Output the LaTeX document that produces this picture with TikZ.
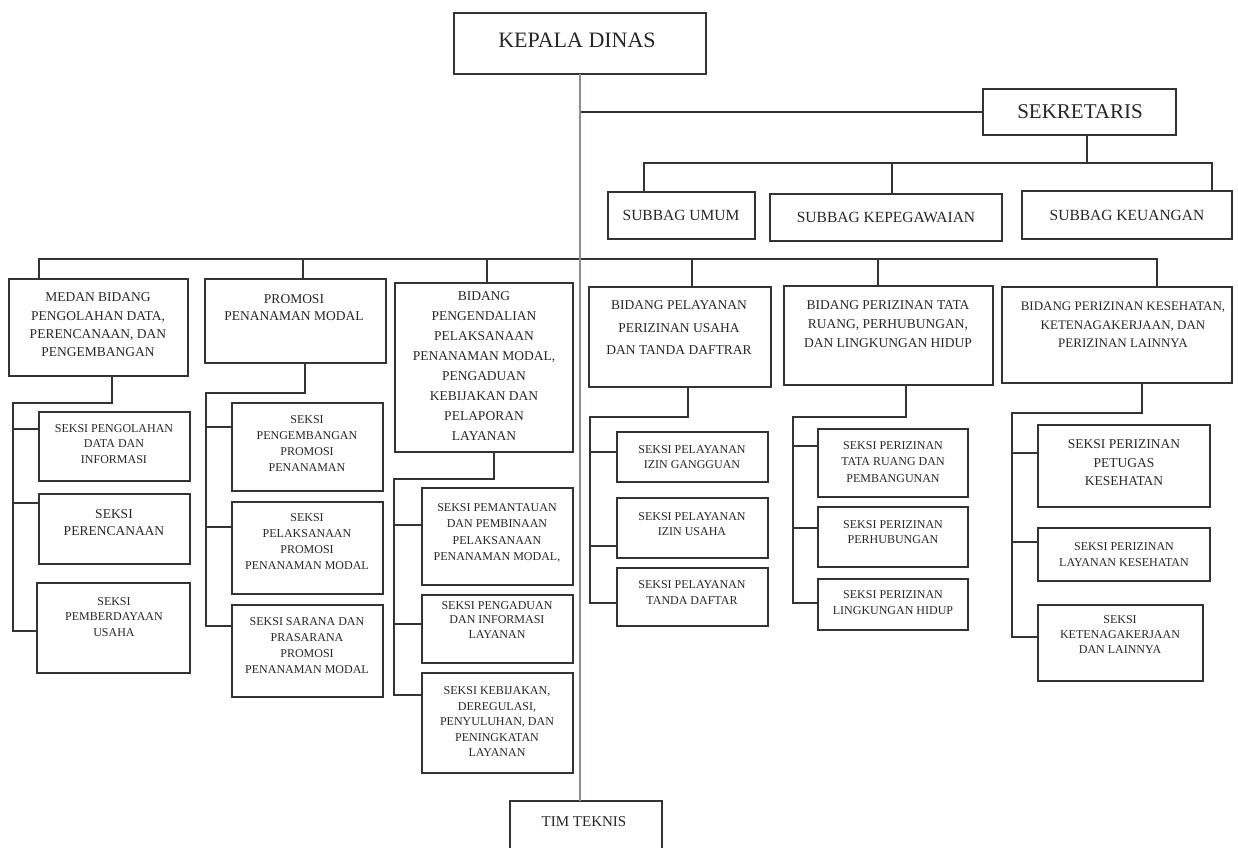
\documentclass[tikz,border=0pt]{standalone}
\usepackage{fontspec}
\setmainfont{Liberation Serif}
\usetikzlibrary{calc}
\tikzset{
  box/.style={rectangle, draw=black!80, line width=0.9pt, inner sep=0pt, outer sep=0pt},
  lbl/.style={align=center, inner sep=0pt, text=black!85},
  con/.style={draw=black!80, line width=0.9pt},
  mainline/.style={draw={rgb,255:red,135;green,148;blue,130}, line width=0.75pt},
}
\newcommand\bx[5]{\node[box, minimum width={(#4-#2)*0.5pt}, minimum height={(#5-#3)*0.5pt}] (#1) at ({(#2+#4)/2},{(#3+#5)/2}) {};}
\newcommand\fs[2]{\fontsize{#1}{#2}\selectfont}
\begin{document}
\begin{tikzpicture}[x=0.5pt,y=-0.5pt]
\useasboundingbox (0,0) rectangle (1238,847);
\clip (0,0) rectangle (1238,847);

% ---------- top level ----------
\bx{kd}{454}{13}{706}{74}
\node[lbl, font=\fs{11}{13}] (kdt) at (577,40) {KEPALA DINAS};
\bx{sek}{983}{89}{1176}{135}
\node[lbl, font=\fs{10.5}{12}] (sekt) at (1080,112) {SEKRETARIS};
\bx{sb1}{608}{192}{755}{239}
\node[lbl, font=\fs{7.75}{9}] (sb1t) at (681,215) {SUBBAG UMUM};
\bx{sb2}{770}{194}{1002}{241}
\node[lbl, font=\fs{7.75}{9}] (sb2t) at (886,217) {SUBBAG KEPEGAWAIAN};
\bx{sb3}{1022}{191}{1232}{239}
\node[lbl, font=\fs{7.75}{9}] (sb3t) at (1127,215) {SUBBAG KEUANGAN};
\bx{tim}{510}{801}{662}{880}
\node[lbl, font=\fs{7.5}{9}] (timt) at (584,822) {TIM TEKNIS};

% ---------- bidang ----------
\bx{b1}{9}{279}{188}{376}
\node[lbl, font=\fs{6.75}{9.15}] (b1t) at (98,325) {MEDAN BIDANG\\PENGOLAHAN DATA,\\PERENCANAAN, DAN\\PENGEMBANGAN};
\bx{b2}{205}{279}{386}{363}
\node[lbl, font=\fs{6.75}{8.5}] (b2t) at (294,308) {PROMOSI\\PENANAMAN MODAL};
\bx{b3}{395}{283}{573}{452}
\node[lbl, font=\fs{6.75}{10}] (b3t) at (484,366) {BIDANG\\PENGENDALIAN\\PELAKSANAAN\\PENANAMAN MODAL,\\PENGADUAN\\KEBIJAKAN DAN\\PELAPORAN\\LAYANAN};
\bx{b4}{589}{287}{771}{387}
\node[lbl, font=\fs{6.75}{11.25}] (b4t) at (679,328) {BIDANG PELAYANAN\\PERIZINAN USAHA\\DAN TANDA DAFTRAR};
\bx{b5}{784}{286}{993}{385}
\node[lbl, font=\fs{6.75}{9.5}] (b5t) at (888,324) {BIDANG PERIZINAN TATA\\RUANG, PERHUBUNGAN,\\DAN LINGKUNGAN HIDUP};
\bx{b6}{1002}{287}{1232}{383}
\node[lbl, font=\fs{6.5}{9.25}] (b6t) at (1123,325) {BIDANG PERIZINAN KESEHATAN,\\KETENAGAKERJAAN, DAN\\PERIZINAN LAINNYA};

% ---------- seksi ----------
\bx{s1a}{39}{412}{190}{481}
\node[lbl, font=\fs{6}{7.75}] (s1at) at (114,444) {SEKSI PENGOLAHAN\\DATA DAN\\INFORMASI};
\bx{s1b}{39}{494}{190}{564}
\node[lbl, font=\fs{6.75}{8.5}] (s1bt) at (114,523) {SEKSI\\PERENCANAAN};
\bx{s1c}{37}{583}{190}{673}
\node[lbl, font=\fs{6}{7.75}] (s1ct) at (114,617) {SEKSI\\PEMBERDAYAAN\\USAHA};

\bx{s2a}{232}{403}{383}{491}
\node[lbl, font=\fs{6}{8}] (s2at) at (307,444) {SEKSI\\PENGEMBANGAN\\PROMOSI\\PENANAMAN};
\bx{s2b}{232}{502}{383}{594}
\node[lbl, font=\fs{6}{8}] (s2bt) at (307,542) {SEKSI\\PELAKSANAAN\\PROMOSI\\PENANAMAN MODAL};
\bx{s2c}{232}{605}{383}{697}
\node[lbl, font=\fs{6}{8}] (s2ct) at (307,646) {SEKSI SARANA DAN\\PRASARANA\\PROMOSI\\PENANAMAN MODAL};

\bx{s3a}{422}{488}{573}{585}
\node[lbl, font=\fs{6}{8.25}] (s3at) at (497,533) {SEKSI PEMANTAUAN\\DAN PEMBINAAN\\PELAKSANAAN\\PENANAMAN MODAL,};
\bx{s3b}{422}{595}{573}{663}
\node[lbl, font=\fs{6}{7.25}] (s3bt) at (497,620) {SEKSI PENGADUAN\\DAN INFORMASI\\LAYANAN};
\bx{s3c}{422}{673}{573}{773}
\node[lbl, font=\fs{6}{7.75}] (s3ct) at (497,722) {SEKSI KEBIJAKAN,\\DEREGULASI,\\PENYULUHAN, DAN\\PENINGKATAN\\LAYANAN};

\bx{s4a}{617}{432}{768}{482}
\node[lbl, font=\fs{6}{7.5}] (s4at) at (692,457) {SEKSI PELAYANAN\\IZIN GANGGUAN};
\bx{s4b}{617}{498}{768}{558}
\node[lbl, font=\fs{6}{7.5}] (s4bt) at (692,524) {SEKSI PELAYANAN\\IZIN USAHA};
\bx{s4c}{617}{568}{768}{626}
\node[lbl, font=\fs{6}{8}] (s4ct) at (692,593) {SEKSI PELAYANAN\\TANDA DAFTAR};

\bx{s5a}{818}{429}{968}{497}
\node[lbl, font=\fs{6}{8.25}] (s5at) at (893,462) {SEKSI PERIZINAN\\TATA RUANG DAN\\PEMBANGUNAN};
\bx{s5b}{818}{507}{968}{567}
\node[lbl, font=\fs{6}{7.5}] (s5bt) at (893,532) {SEKSI PERIZINAN\\PERHUBUNGAN};
\bx{s5c}{818}{579}{968}{630}
\node[lbl, font=\fs{6}{8}] (s5ct) at (893,603) {SEKSI PERIZINAN\\LINGKUNGAN HIDUP};

\bx{s6a}{1038}{425}{1210}{507}
\node[lbl, font=\fs{6.75}{9.25}] (s6at) at (1124,463) {SEKSI PERIZINAN\\PETUGAS\\KESEHATAN};
\bx{s6b}{1038}{528}{1210}{581}
\node[lbl, font=\fs{6}{8}] (s6bt) at (1124,555) {SEKSI PERIZINAN\\LAYANAN KESEHATAN};
\bx{s6c}{1038}{605}{1203}{681}
\node[lbl, font=\fs{6}{7.5}] (s6ct) at (1120,635) {SEKSI\\KETENAGAKERJAAN\\DAN LAINNYA};

% ---------- top connectors ----------
\draw[con] (sek.west) -- (sek.west -| kd.south);
\coordinate (sd) at (1087,163);
\coordinate (u1) at (644,163);
\coordinate (u2) at (892,163);
\coordinate (u3) at (1212,163);
\draw[con] (sd |- sek.south) -- (sd);
\draw[con] (u1 |- sb1.north) -- (u1) -- (u3) -- (u3 |- sb3.north);
\draw[con] (u2) -- (u2 |- sb2.north);

% ---------- main bar ----------
\coordinate (d1) at (39,259);
\coordinate (d2) at (303,259);
\coordinate (d3) at (487,259);
\coordinate (d4) at (692,259);
\coordinate (d5) at (878,259);
\coordinate (d6) at (1157,259);
\draw[con] (d1 |- b1.north) -- (d1) -- (d6) -- (d6 |- b6.north);
\draw[con] (d2) -- (d2 |- b2.north);
\draw[con] (d3) -- (d3 |- b3.north);
\draw[con] (d4) -- (d4 |- b4.north);
\draw[con] (d5) -- (d5 |- b5.north);

% ---------- column trees ----------
% col 1
\coordinate (t1) at (112,403); \coordinate (e1) at (13,403);
\coordinate (k1a) at ($(s1a.north west)!0.25!(s1a.south west)$);
\coordinate (k1b) at ($(s1b.north west)!0.13!(s1b.south west)$);
\coordinate (k1c) at ($(s1c.north west)!0.53!(s1c.south west)$);
\draw[con] (t1 |- b1.south) -- (t1) -- (e1) -- (e1 |- k1c) -- (k1c);
\draw[con] (k1a -| e1) -- (k1a);
\draw[con] (k1b -| e1) -- (k1b);
% col 2
\coordinate (t2) at (305,393); \coordinate (e2) at (206,393);
\coordinate (k2a) at ($(s2a.north west)!0.27!(s2a.south west)$);
\coordinate (k2b) at ($(s2b.north west)!0.27!(s2b.south west)$);
\coordinate (k2c) at ($(s2c.north west)!0.23!(s2c.south west)$);
\draw[con] (t2 |- b2.south) -- (t2) -- (e2) -- (e2 |- k2c) -- (k2c);
\draw[con] (k2a -| e2) -- (k2a);
\draw[con] (k2b -| e2) -- (k2b);
% col 3
\coordinate (t3) at (494,479); \coordinate (e3) at (394,479);
\coordinate (k3a) at ($(s3a.north west)!0.38!(s3a.south west)$);
\coordinate (k3b) at ($(s3b.north west)!0.43!(s3b.south west)$);
\coordinate (k3c) at ($(s3c.north west)!0.22!(s3c.south west)$);
\draw[con] (t3 |- b3.south) -- (t3) -- (e3) -- (e3 |- k3c) -- (k3c);
\draw[con] (k3a -| e3) -- (k3a);
\draw[con] (k3b -| e3) -- (k3b);
% col 4
\coordinate (t4) at (688,417); \coordinate (e4) at (590,417);
\coordinate (k4a) at ($(s4a.north west)!0.40!(s4a.south west)$);
\coordinate (k4b) at ($(s4b.north west)!0.80!(s4b.south west)$);
\coordinate (k4c) at ($(s4c.north west)!0.60!(s4c.south west)$);
\draw[con] (t4 |- b4.south) -- (t4) -- (e4) -- (e4 |- k4c) -- (k4c);
\draw[con] (k4a -| e4) -- (k4a);
\draw[con] (k4b -| e4) -- (k4b);
% col 5
\coordinate (t5) at (906,417); \coordinate (e5) at (793,417);
\coordinate (k5a) at ($(s5a.north west)!0.25!(s5a.south west)$);
\coordinate (k5b) at ($(s5b.north west)!0.35!(s5b.south west)$);
\coordinate (k5c) at ($(s5c.north west)!0.47!(s5c.south west)$);
\draw[con] (t5 |- b5.south) -- (t5) -- (e5) -- (e5 |- k5c) -- (k5c);
\draw[con] (k5a -| e5) -- (k5a);
\draw[con] (k5b -| e5) -- (k5b);
% col 6
\coordinate (t6) at (1142,413); \coordinate (e6) at (1012,413);
\coordinate (k6a) at ($(s6a.north west)!0.34!(s6a.south west)$);
\coordinate (k6b) at ($(s6b.north west)!0.26!(s6b.south west)$);
\coordinate (k6c) at ($(s6c.north west)!0.42!(s6c.south west)$);
\draw[con] (t6 |- b6.south) -- (t6) -- (e6) -- (e6 |- k6c) -- (k6c);
\draw[con] (k6a -| e6) -- (k6a);
\draw[con] (k6b -| e6) -- (k6b);

% ---------- central line ----------
\draw[mainline] (kd.south) -- (kd.south |- tim.north);
\end{tikzpicture}
\end{document}
